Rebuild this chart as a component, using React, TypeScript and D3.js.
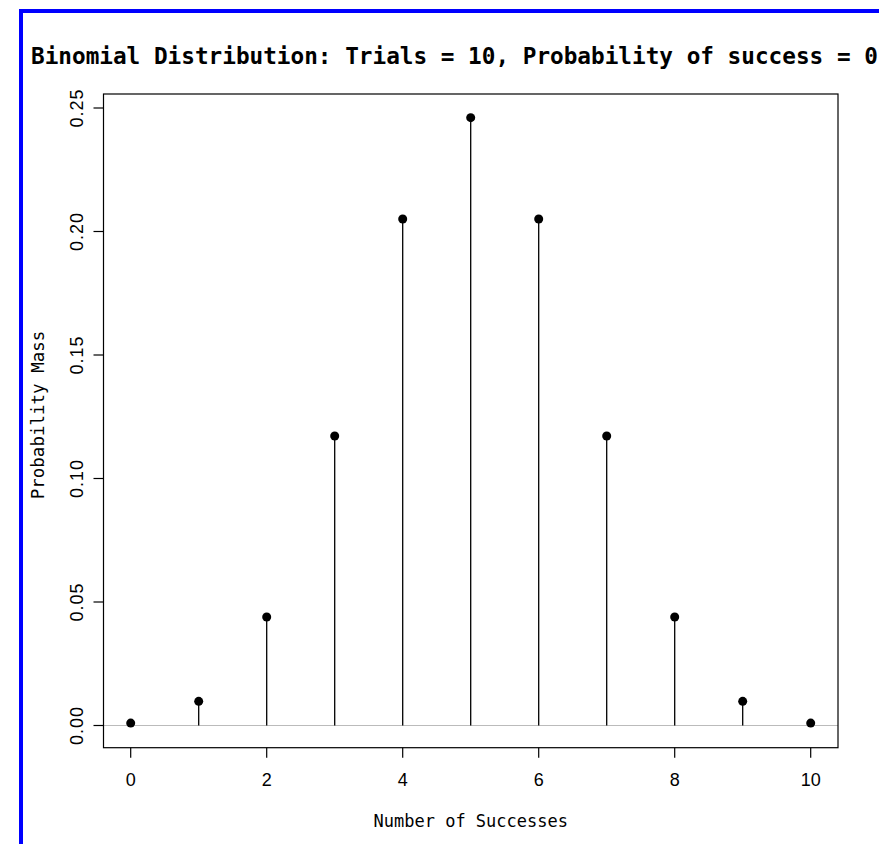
import React from "react";
import * as d3 from "d3";

const successes = [0, 1, 2, 3, 4, 5, 6, 7, 8, 9, 10];
const probabilities = [0.00098, 0.00977, 0.04395, 0.11719, 0.20508, 0.24609, 0.20508, 0.11719, 0.04395, 0.00977, 0.00098];
const xTicks = [0, 2, 4, 6, 8, 10];
const yTicks = [0, 0.05, 0.1, 0.15, 0.2, 0.25];
const titleText = "Binomial Distribution: Trials = 10, Probability of success = 0.5";
const xLabel = "Number of Successes";
const yLabel = "Probability Mass";

const W = 879;
const H = 844;
const plot = { left: 103.5, right: 838, top: 94, bottom: 747.7 };

export default function App() {
  const x = d3.scaleLinear().domain([0, 10]).range([130.7, 810.7]);
  const y = d3.scaleLinear().domain([0, 0.25]).range([725.5, 108]);
  const mono = "'DejaVu Sans Mono', monospace";
  const sans = "'Liberation Sans', Arial, sans-serif";
  return (
    <svg width={W} height={H} style={{ position: "absolute", left: 0, top: 0, background: "#fff" }}>
      <rect x={0} y={0} width={W} height={H} fill="#fff" />
      <rect x={21} y={11} width={W + 20} height={H + 20} fill="none" stroke="#0000ff" strokeWidth={4} />
      <text x={31} y={64} fontFamily={mono} fontWeight="bold" fontSize={22.7} fill="#000">
        {titleText}
      </text>
      <line x1={plot.left} x2={plot.right} y1={y(0)} y2={y(0)} stroke="#bbbbbb" strokeWidth={1.2} />
      {successes.map((s, i) => (
        <g key={s}>
          <line x1={x(s)} x2={x(s)} y1={y(0)} y2={y(probabilities[i])} stroke="#000" strokeWidth={1.3} />
          <circle cx={x(s)} cy={y(probabilities[i])} r={4.5} fill="#000" />
        </g>
      ))}
      <rect x={plot.left} y={plot.top} width={plot.right - plot.left} height={plot.bottom - plot.top} fill="none" stroke="#000" strokeWidth={1.2} />
      {xTicks.map((t) => (
        <g key={t}>
          <line x1={x(t)} x2={x(t)} y1={plot.bottom} y2={plot.bottom + 10} stroke="#000" strokeWidth={1.2} />
          <text x={x(t)} y={786} textAnchor="middle" fontFamily={sans} fontSize={18} fill="#000">
            {t}
          </text>
        </g>
      ))}
      {yTicks.map((t) => (
        <g key={t}>
          <line x1={plot.left} x2={plot.left - 10} y1={y(t)} y2={y(t)} stroke="#000" strokeWidth={1.2} />
          <text
            transform={`translate(83,${y(t)}) rotate(-90)`}
            textAnchor="middle"
            fontFamily={sans}
            fontSize={18}
            letterSpacing={1}
            fill="#000"
          >
            {d3.format(".2f")(t)}
          </text>
        </g>
      ))}
      <text x={(plot.left + plot.right) / 2} y={827} textAnchor="middle" fontFamily={mono} fontSize={17} fill="#000">
        {xLabel}
      </text>
      <text transform={`translate(44,415) rotate(-90)`} textAnchor="middle" fontFamily={mono} fontSize={17.5} fill="#000">
        {yLabel}
      </text>
    </svg>
  );
}
